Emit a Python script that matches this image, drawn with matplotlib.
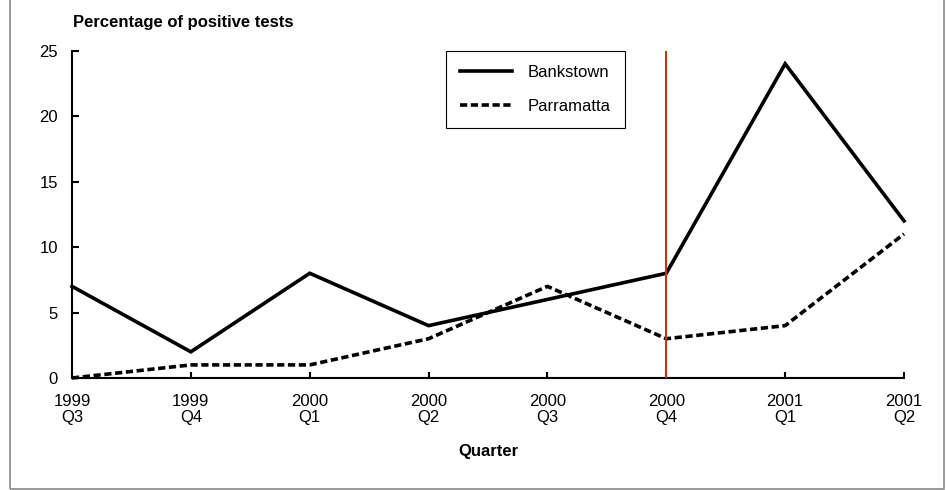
import matplotlib
matplotlib.use('Agg')
import matplotlib.pyplot as plt
from matplotlib.patches import Rectangle

# Data
quarters = ['1999\nQ3', '1999\nQ4', '2000\nQ1', '2000\nQ2',
            '2000\nQ3', '2000\nQ4', '2001\nQ1', '2001\nQ2']
bankstown = [7, 2, 8, 4, 6, 8, 24, 12]
parramatta = [0, 1, 1, 3, 7, 3, 4, 11]
marker_quarter = 5   # index of 2000 Q4, where the red line sits
y_ticks = [0, 5, 10, 15, 20, 25]

plt.rcParams['font.family'] = ['Liberation Sans Narrow', 'Liberation Sans', 'DejaVu Sans']
font_size = 12

W, H = 946, 490
fig = plt.figure(figsize=(W / 100, H / 100), dpi=100)

# axes placed in pixel terms of the reference
left, right, bottom, top = 72, 904, 378, 50.7
ax = fig.add_axes([left / W, 1 - bottom / H, (right - left) / W, (bottom - top) / H])

x = list(range(len(quarters)))
ax.plot(x, bankstown, color='black', linewidth=2.6, solid_joinstyle='miter',
        label='Bankstown', clip_on=False, zorder=3)
ax.plot(x, parramatta, color='black', linewidth=2.6, linestyle=(0, (2.0, 1.0)),
        label='Parramatta', clip_on=False, zorder=3)
ax.axvline(marker_quarter, ymin=0, ymax=1, color='#CC3300', linewidth=1.5, zorder=4)

ax.set_xlim(0, len(quarters) - 1)
ax.set_ylim(0, 25)
ax.set_xticks(x)
ax.set_xticklabels(quarters, fontsize=font_size, linespacing=1.05)
ax.set_yticks(y_ticks)
ax.set_yticklabels([str(v) for v in y_ticks], fontsize=font_size)

for s in ['top', 'right']:
    ax.spines[s].set_visible(False)
for s in ['left', 'bottom']:
    ax.spines[s].set_linewidth(1.5)
ax.tick_params(axis='y', direction='in', length=5, width=1.5, pad=10)
ax.tick_params(axis='x', direction='in', length=4.5, width=1.5, pad=11.5)

leg = ax.legend(loc='upper left', bbox_to_anchor=(446 / W, 1 - 51 / H),
                bbox_transform=fig.transFigure, fontsize=font_size,
                frameon=True, fancybox=False, framealpha=1, edgecolor='black',
                handlelength=3.1, handletextpad=0.95, labelspacing=1.15,
                borderpad=0.85, borderaxespad=0)
leg.get_frame().set_linewidth(0.8)

fig.text(73 / W, 1 - 27 / H, 'Percentage of positive tests', fontsize=font_size,
         fontweight='bold', ha='left', va='baseline')
fig.text((left + right) / 2 / W, 1 - 456 / H, 'Quarter', fontsize=font_size,
         fontweight='bold', ha='center', va='baseline')

# grey frame around the whole picture
fig.patches.append(Rectangle((9.5 / W, 1 - 489 / H), (943.5 - 9.5) / W, 489 / H + 0.05,
                             transform=fig.transFigure, fill=False,
                             edgecolor='#888888', linewidth=1.2, clip_on=False))

fig.savefig('out.png', dpi=100)
